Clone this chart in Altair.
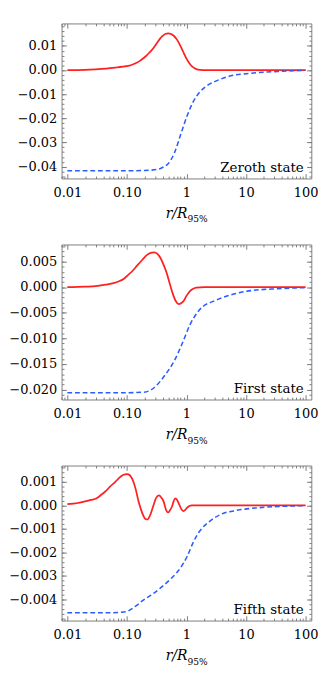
import altair as alt
import numpy as np
import pandas as pd

# ---------------- data ----------------
X_TICKS = [0.01, 0.1, 1, 10, 100]
X_TICK_LABELS = ["0.01", "0.10", "1", "10", "100"]
X_DOMAIN = [0.0080, 125.0]

STATE_LABELS = ["Zeroth state", "First state", "Fifth state"]

# Zeroth state
z_red_x = [0.01, 0.02, 0.03, 0.045, 0.0635, 0.085, 0.116, 0.14, 0.165, 0.189, 0.215, 0.24, 0.271, 0.30, 0.33, 0.36, 0.39, 0.44, 0.497, 0.55, 0.61, 0.67, 0.73, 0.78, 0.85, 0.91, 1.0, 1.16, 1.3, 1.47, 1.7, 2.1, 5, 20, 100]
z_red_y = [0.0, 0.0001, 0.0003, 0.0006, 0.0010, 0.0014, 0.0020, 0.0028, 0.0038, 0.0049, 0.0061, 0.0073, 0.0087, 0.0102, 0.0117, 0.0130, 0.0139, 0.0149, 0.0152, 0.0149, 0.0142, 0.0131, 0.0117, 0.0103, 0.0084, 0.0068, 0.0047, 0.0023, 0.0011, 0.0004, 0.0001, 0.0, 0.0, 0.0, 0.0]
z_blue_x = [0.01, 0.1, 0.19, 0.24, 0.345, 0.42, 0.497, 0.63, 0.805, 1.03, 1.3, 1.66, 2.2, 3.04, 5.56, 10.2, 20, 34, 100]
z_blue_y = [-0.0417, -0.0417, -0.0416, -0.0415, -0.0410, -0.0400, -0.0387, -0.0342, -0.0265, -0.0188, -0.0131, -0.0092, -0.0065, -0.0047, -0.0024, -0.0015, -0.0009, -0.0006, -0.0001]
z_ydomain = [-0.0449, 0.0193]
z_yticks = [-0.04, -0.03, -0.02, -0.01, 0.0, 0.01]

# First state
f_red_x = [0.01, 0.02, 0.03, 0.044, 0.06, 0.072, 0.088, 0.103, 0.125, 0.148, 0.18, 0.213, 0.25, 0.288, 0.325, 0.366, 0.415, 0.467, 0.53, 0.594, 0.66, 0.74, 0.82, 0.908, 1.0, 1.156, 1.3, 1.47, 2.0, 100]
f_red_y = [0.0, 0.0001, 0.0002, 0.0005, 0.0008, 0.0011, 0.0016, 0.0023, 0.0032, 0.0042, 0.0053, 0.0062, 0.0067, 0.0068, 0.0065, 0.0057, 0.0043, 0.0027, 0.0005, -0.0014, -0.0027, -0.0033, -0.0031, -0.0026, -0.0017, -0.0007, -0.0003, -0.0001, 0.0, 0.0]
f_blue_x = [0.01, 0.1, 0.189, 0.25, 0.306, 0.44, 0.63, 0.855, 1.16, 1.66, 3.04, 5.56, 10.2, 34, 100]
f_blue_y = [-0.0206, -0.0206, -0.0205, -0.0201, -0.0193, -0.0171, -0.0143, -0.0109, -0.0072, -0.0044, -0.0026, -0.0015, -0.0008, -0.0003, -0.0001]
f_ydomain = [-0.02193, 0.00833]
f_yticks = [-0.020, -0.015, -0.010, -0.005, 0.0, 0.005]

# Fifth state
v_red_x = [0.01, 0.015, 0.019, 0.025, 0.031, 0.037, 0.044, 0.052, 0.064, 0.075, 0.088, 0.1, 0.112, 0.124, 0.14, 0.157, 0.172, 0.189, 0.205, 0.221, 0.245, 0.271, 0.31, 0.345, 0.38, 0.414, 0.455, 0.497, 0.535, 0.574, 0.61, 0.648, 0.70, 0.758, 0.82, 0.888, 0.95, 1.026, 1.12, 1.23, 2.0, 100]
v_red_y = [0.00005, 0.0001, 0.00016, 0.00023, 0.0003, 0.00045, 0.0006, 0.0008, 0.0010, 0.00118, 0.0013, 0.00133, 0.00128, 0.0011, 0.0007, 0.00016, -0.00017, -0.00044, -0.00058, -0.0006, -0.00042, -0.0001, 0.00032, 0.00042, 0.00032, 0.00016, -0.0002, -0.0003, -0.00018, -0.00004, 0.00018, 0.0003, 0.00022, 0.00003, -0.00016, -0.00024, -0.0002, -0.0001, -0.00003, 0.0, 0.0, 0.0]
v_blue_x = [0.01, 0.05, 0.08, 0.103, 0.131, 0.189, 0.271, 0.39, 0.56, 0.805, 1.03, 1.3, 1.66, 2.39, 3.87, 7.08, 14.6, 34, 100]
v_blue_y = [-0.00456, -0.00456, -0.00454, -0.00449, -0.00433, -0.00402, -0.00376, -0.00345, -0.00309, -0.00263, -0.00216, -0.00157, -0.0011, -0.0007, -0.00037, -0.00021, -0.00011, -0.00005, -0.00001]
v_ydomain = [-0.00489, 0.00169]
v_yticks = [-0.004, -0.003, -0.002, -0.001, 0.0, 0.001]

# ---------------- style ----------------
W, H = 261, 162
FONT = "DejaVu Serif"
FS = 13.5
RED = "#ff1f1f"
BLUE = "#2a5cff"
FRAME = "#7a7a7a"

label_expr = "'" + X_TICK_LABELS[-1] + "'"
for v, l in reversed(list(zip(X_TICKS[:-1], X_TICK_LABELS[:-1]))):
    label_expr = f"abs(datum.value - {v}) < {v / 100} ? '{l}' : " + label_expr

x_minor = [round(k * 10.0 ** d, 6) for d in range(-3, 2) for k in range(2, 10)]
x_minor = [v for v in x_minor if X_DOMAIN[0] <= v <= X_DOMAIN[1]]


def minor_ticks(ydom, step):
    n0 = int(np.ceil(ydom[0] / step))
    n1 = int(np.floor(ydom[1] / step))
    return [round(n * step, 8) for n in range(n0, n1 + 1)]


def panel(rx, ry, bx, by, ydom, yticks, yfmt, ystep, label):
    red_df = pd.DataFrame({"x": rx, "y": ry})
    blue_df = pd.DataFrame({"x": bx, "y": by})
    xs = alt.Scale(type="log", domain=X_DOMAIN, nice=False)
    ys = alt.Scale(domain=ydom, nice=False, zero=False)
    ymin = minor_ticks(ydom, ystep)

    def ax(orient, values, size, labels, fmt=None, lexpr=None, pad=0):
        kw = dict(orient=orient, values=values, tickSize=size, offset=-size,
                  labels=labels, title=None, domain=False, grid=False,
                  tickColor=FRAME, tickWidth=1, labelFlush=False,
                  labelOverlap=False, labelPadding=pad,
                  labelFont=FONT, labelFontSize=FS, labelColor="black")
        if fmt:
            kw["format"] = fmt
        if lexpr:
            kw["labelExpr"] = lexpr
        return alt.Axis(**kw)

    red = alt.Chart(red_df).mark_line(color=RED, strokeWidth=1.8, interpolate="monotone").encode(
        x=alt.X("x:Q", scale=xs, axis=ax("bottom", X_TICKS, 5, True, lexpr=label_expr, pad=8)),
        y=alt.Y("y:Q", scale=ys, axis=ax("left", yticks, 5, True, fmt=yfmt, pad=5)),
    )
    blue = alt.Chart(blue_df).mark_line(color=BLUE, strokeWidth=1.6, strokeDash=[5, 3], interpolate="monotone").encode(
        x=alt.X("x:Q", scale=xs, axis=ax("top", X_TICKS, 5, False)),
        y=alt.Y("y:Q", scale=ys, axis=ax("right", yticks, 5, False)),
    )
    minor_a = alt.Chart(red_df).mark_line(strokeOpacity=0).encode(
        x=alt.X("x:Q", scale=xs, axis=ax("bottom", x_minor, 2.5, False)),
        y=alt.Y("y:Q", scale=ys, axis=ax("left", ymin, 2.5, False)),
    )
    minor_b = alt.Chart(red_df).mark_line(strokeOpacity=0).encode(
        x=alt.X("x:Q", scale=xs, axis=ax("top", x_minor, 2.5, False)),
        y=alt.Y("y:Q", scale=ys, axis=ax("right", ymin, 2.5, False)),
    )
    state = alt.Chart(pd.DataFrame({"t": [label]})).mark_text(
        align="right", baseline="alphabetic", font=FONT, fontSize=14, color="black"
    ).encode(text="t:N", x=alt.value(W - 8), y=alt.value(H - 7))
    t_main = alt.Chart(pd.DataFrame({"t": ["r/R"]})).mark_text(
        align="right", baseline="alphabetic", font=FONT, fontSize=14.5, fontStyle="italic", color="black"
    ).encode(text="t:N", x=alt.value(W / 2 + 1), y=alt.value(H + 41))
    t_sub = alt.Chart(pd.DataFrame({"t": ["95%"]})).mark_text(
        align="left", baseline="alphabetic", font=FONT, fontSize=9.5, color="black"
    ).encode(text="t:N", x=alt.value(W / 2 + 1), y=alt.value(H + 46))
    return alt.layer(red, blue, minor_a, minor_b, state, t_main, t_sub).properties(width=W, height=H)


chart = alt.vconcat(
    panel(z_red_x, z_red_y, z_blue_x, z_blue_y, z_ydomain, z_yticks, ".2f", 0.002, STATE_LABELS[0]),
    panel(f_red_x, f_red_y, f_blue_x, f_blue_y, f_ydomain, f_yticks, ".3f", 0.001, STATE_LABELS[1]),
    panel(v_red_x, v_red_y, v_blue_x, v_blue_y, v_ydomain, v_yticks, ".3f", 0.0002, STATE_LABELS[2]),
    spacing=20,
).properties(
    padding={"left": 0, "top": 0, "right": 0, "bottom": 0}
).configure_view(
    stroke=FRAME, strokeWidth=1
)

chart.save("out.html", embed_options={"renderer": "svg", "actions": False})
